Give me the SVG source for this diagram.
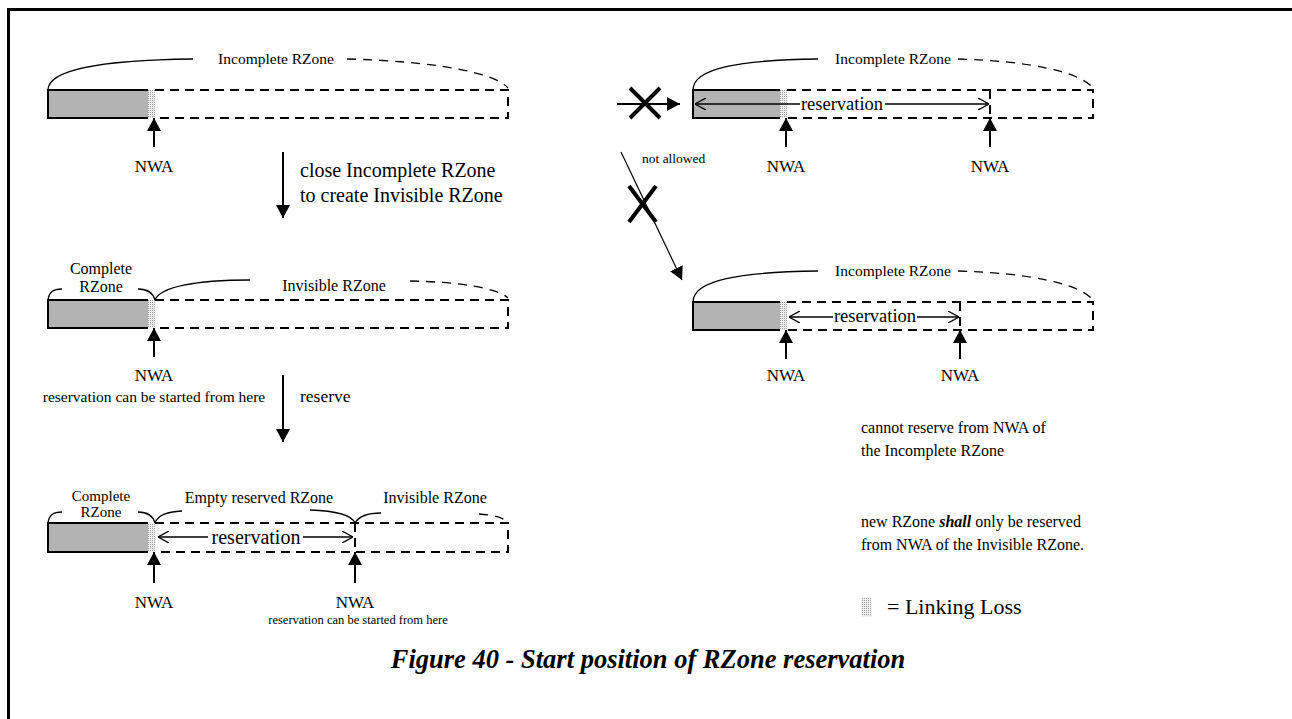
<svg xmlns="http://www.w3.org/2000/svg" width="1292" height="719" viewBox="0 0 1292 719">
<style>
text{font-family:"Liberation Serif","Times New Roman",serif;fill:#000}
.t16{font-size:16px}
.nwa{font-size:17px;text-anchor:middle}
.lbl{font-size:15.5px;text-anchor:middle}
.res{text-anchor:middle}
.gray{fill:#b3b3b3;stroke:none}
.solid{fill:none;stroke:#000;stroke-width:2}
.dash{fill:none;stroke:#000;stroke-width:2;stroke-dasharray:9 6}
.curve{fill:none;stroke:#000;stroke-width:1.3}
.dcurve{fill:none;stroke:#000;stroke-width:1.3;stroke-dasharray:9 7}
.arr{fill:none;stroke:#000;stroke-width:2;marker-end:url(#ah)}
.dbl{fill:none;stroke:#000;stroke-width:1.3}
.x{stroke:#000;stroke-width:4;fill:none}
</style>
<defs>
<pattern id="stip" width="2" height="2" patternUnits="userSpaceOnUse">
<rect width="2" height="2" fill="#f0f0f0"/>
<rect width="1" height="1" fill="#9a9a9a"/>
</pattern>
<marker id="ah" viewBox="0 0 13 14" refX="13" refY="7" markerWidth="13" markerHeight="14" markerUnits="userSpaceOnUse" orient="auto">
<path d="M0,0 L13,7 L0,14 z" fill="#000"/>
</marker>
<marker id="oa" viewBox="0 0 11 12" refX="11" refY="6" markerWidth="11" markerHeight="12" markerUnits="userSpaceOnUse" orient="auto-start-reverse">
<path d="M0,0 L11,6 L0,12" fill="none" stroke="#000" stroke-width="1.3"/>
</marker>
</defs>
<rect width="1292" height="719" fill="#fff"/>
<path d="M8.5,719 V9.5 H1292" fill="none" stroke="#000" stroke-width="3"/>

<g id="state-top-left">
<rect class="gray" x="48" y="90" width="100" height="28"/>
<path class="solid" d="M148,90 H48 V118 H148"/>
<rect x="148" y="90" width="7" height="28" fill="url(#stip)"/>
<path class="dash" d="M155,90 H508 V118 H155"/>
<path class="curve" d="M48,90 C48,68 110,60 193,59"/>
<text class="lbl" x="276" y="64">Incomplete RZone</text>
<path class="dcurve" d="M347,59 C430,61 495,72 508,88"/>
<path class="arr" d="M154,147 V118"/>
<text class="nwa" x="154" y="172">NWA</text>
</g>

<g id="state-middle-left">
<rect class="gray" x="48" y="300" width="100" height="28"/>
<path class="solid" d="M148,300 H48 V328 H148"/>
<rect x="148" y="300" width="7" height="28" fill="url(#stip)"/>
<path class="dash" d="M155,300 H508 V328 H155"/>
<path class="curve" d="M48,300 C49,292 53,289 62,289 M138,289 C148,289 153,293 155,300"/>
<text class="t16" x="101" y="274" text-anchor="middle">Complete</text>
<text class="t16" x="101" y="292" text-anchor="middle">RZone</text>
<path class="curve" d="M155,300 C160,287 195,280 250,280"/>
<text class="t16" x="334" y="291" text-anchor="middle">Invisible RZone</text>
<path class="dcurve" d="M410,281 C460,282 497,288 508,298"/>
<path class="arr" d="M154,357 V328"/>
<text class="nwa" x="154" y="381">NWA</text>
<text x="154" y="402" font-size="15.5" text-anchor="middle">reservation can be started from here</text>
</g>

<g id="state-bottom-left">
<rect class="gray" x="48" y="523" width="100" height="29"/>
<path class="solid" d="M148,523 H48 V552 H148"/>
<rect x="148" y="523" width="7" height="29" fill="url(#stip)"/>
<path class="dash" d="M155,523 H508 V552 H155"/>
<path class="dash" d="M355,523 V552"/>
<path class="curve" d="M48,523 C49,515 53,512 62,512 M138,512 C148,512 153,516 155,523"/>
<text x="101" y="501" font-size="15" text-anchor="middle">Complete</text>
<text x="101" y="517" font-size="15" text-anchor="middle">RZone</text>
<path class="curve" d="M155,523 C158,515 166,512 182,511 M310,510 C340,511 352,516 355,523"/>
<text class="t16" x="259" y="503" text-anchor="middle">Empty reserved RZone</text>
<path class="curve" d="M355,523 C359,516 367,513 381,513"/>
<text class="t16" x="435" y="503" text-anchor="middle">Invisible RZone</text>
<path class="dcurve" d="M479,514 C495,515 503,518 508,522"/>
<path class="dbl" d="M158,537 H208" marker-start="url(#oa)"/>
<path class="dbl" d="M303,537 H353" marker-end="url(#oa)"/>
<text class="res" x="256" y="544" font-size="20">reservation</text>
<path class="arr" d="M154,583 V552"/>
<path class="arr" d="M355,583 V552"/>
<text class="nwa" x="154" y="608">NWA</text>
<text class="nwa" x="355" y="608">NWA</text>
<text x="358" y="624" font-size="12.5" text-anchor="middle">reservation can be started from here</text>
</g>

<g id="state-top-right">
<rect class="gray" x="693" y="90" width="87" height="28"/>
<path class="solid" d="M780,90 H693 V118 H780"/>
<rect x="780" y="90" width="7" height="28" fill="url(#stip)"/>
<path class="dash" d="M787,90 H1093 V118 H787"/>
<path class="dash" d="M990,90 V118"/>
<path class="curve" d="M693,90 C693,68 740,60 818,59"/>
<text class="lbl" x="893" y="64">Incomplete RZone</text>
<path class="dcurve" d="M958,59 C1030,61 1080,72 1093,88"/>
<path class="dbl" d="M695,104 H800" marker-start="url(#oa)"/>
<path class="dbl" d="M885,104 H989" marker-end="url(#oa)"/>
<text class="res" x="842" y="110" font-size="18.5">reservation</text>
<path class="arr" d="M786,147 V118"/>
<path class="arr" d="M990,147 V118"/>
<text class="nwa" x="786" y="172">NWA</text>
<text class="nwa" x="990" y="172">NWA</text>
</g>

<g id="state-middle-right">
<rect class="gray" x="693" y="302" width="87" height="28"/>
<path class="solid" d="M780,302 H693 V330 H780"/>
<rect x="780" y="302" width="7" height="28" fill="url(#stip)"/>
<path class="dash" d="M787,302 H1093 V330 H787"/>
<path class="dash" d="M960,302 V330"/>
<path class="curve" d="M693,302 C693,280 740,272 818,271"/>
<text class="lbl" x="893" y="276">Incomplete RZone</text>
<path class="dcurve" d="M958,271 C1030,273 1080,284 1093,300"/>
<path class="dbl" d="M789,317 H833" marker-start="url(#oa)"/>
<path class="dbl" d="M917,317 H959" marker-end="url(#oa)"/>
<text class="res" x="875" y="322" font-size="18.5">reservation</text>
<path class="arr" d="M786,359 V330"/>
<path class="arr" d="M960,359 V330"/>
<text class="nwa" x="786" y="381">NWA</text>
<text class="nwa" x="960" y="381">NWA</text>
</g>

<g id="notes">
<text class="t16" x="861" y="433">cannot reserve from NWA of</text>
<text class="t16" x="861" y="456">the Incomplete RZone</text>
<text class="t16" x="861" y="527">new RZone <tspan font-weight="bold" font-style="italic">shall</tspan> only be reserved</text>
<text class="t16" x="861" y="550">from NWA of the Invisible RZone.</text>
</g>

<g id="legend">
<rect x="862" y="598" width="9" height="18" fill="url(#stip)" stroke="#ccc" stroke-width="0.5"/>
<text x="887" y="614" font-size="22">= Linking Loss</text>
</g>

<g id="connectors">
<path class="arr" d="M283,152 V218"/>
<text x="300" y="177" font-size="20">close Incomplete RZone</text>
<text x="300" y="202" font-size="20">to create Invisible RZone</text>
<path class="arr" d="M283,375 V442"/>
<text x="300" y="402" font-size="17.5">reserve</text>
<path class="arr" d="M617,104 H680"/>
<path class="x" d="M630,88 L660,118 M660,88 L630,118"/>
<path fill="none" stroke="#000" stroke-width="1.2" d="M621,152 L682,280" marker-end="url(#ah)"/>
<path class="x" d="M629,186 L656,222 M656,186 L629,222"/>
<text x="642" y="163" font-size="13.5">not allowed</text>
</g>

<text x="648" y="668" font-size="26.5" font-weight="bold" font-style="italic" text-anchor="middle">Figure 40 - Start position of RZone reservation</text>
</svg>
